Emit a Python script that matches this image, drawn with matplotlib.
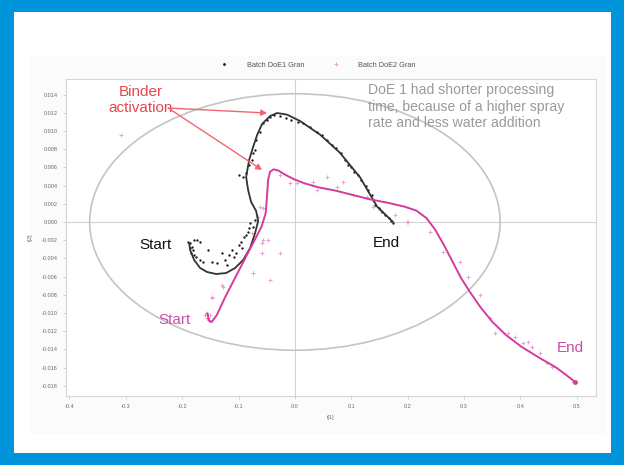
import matplotlib
matplotlib.use("Agg")
import matplotlib.pyplot as plt
from matplotlib.patches import Ellipse, Rectangle

plt.rcParams['font.family'] = ['Liberation Sans', 'DejaVu Sans']

# ---- score trajectories (t[1], t[2]) ----
doe1_line_t1 = [-0.1876, -0.1858, -0.1787, -0.1681, -0.1557, -0.1397, -0.1220, -0.1061,
                -0.0918, -0.0794, -0.0706, -0.0652, -0.0688, -0.0777, -0.0830, -0.0865,
                -0.0812, -0.0741, -0.0670, -0.0582, -0.0440, -0.0316, -0.0138, 0.0092,
                0.0447, 0.0800, 0.1156, 0.1457, 0.1740]
doe1_line_t2 = [-0.00231, -0.00308, -0.00418, -0.00506, -0.00550, -0.00572, -0.00561, -0.00506,
                -0.00418, -0.00286, -0.00121, 0.00011, 0.00121, 0.00220, 0.00352, 0.00495,
                0.00682, 0.00825, 0.00957, 0.01078, 0.01165, 0.01198, 0.01180, 0.01110,
                0.00960, 0.00760, 0.00490, 0.00170, 0.00000]

doe2_line_t1 = [-0.1550, -0.1526, -0.1477, -0.1386, -0.1233, -0.1050, -0.0867, -0.0714,
                -0.0592, -0.0519, -0.0495, -0.0476, -0.0440, -0.0379, -0.0287, -0.0165,
                -0.0012, 0.0171, 0.0415, 0.0720, 0.1026, 0.1331, 0.1636, 0.1941,
                0.2155, 0.2338, 0.2491, 0.2643, 0.2796, 0.2949, 0.3101, 0.3284,
                0.3498, 0.3742, 0.4017, 0.4322, 0.4628, 0.4811, 0.4963]
doe2_line_t2 = [-0.01004, -0.01085, -0.01100, -0.01023, -0.00821, -0.00601, -0.00381, -0.00198,
                -0.00051, 0.00095, 0.00279, 0.00462, 0.00553, 0.00579, 0.00564, 0.00517,
                0.00469, 0.00425, 0.00381, 0.00345, 0.00297, 0.00249, 0.00213, 0.00169,
                0.00125, 0.00040, -0.00088, -0.00253, -0.00436, -0.00619, -0.00766, -0.00931,
                -0.01096, -0.01242, -0.01371, -0.01488, -0.01598, -0.01682, -0.01756]

# ---- observed batch scores ----
doe1_t1 = [-0.1893, -0.1856, -0.1832, -0.1868, -0.1813, -0.1844, -0.1783, -0.1752, -0.1795,
           -0.1734, -0.1691, -0.1691, -0.1630, -0.1538, -0.1477, -0.1386, -0.1294, -0.1245,
           -0.1203, -0.1172, -0.1111, -0.1081, -0.1038, -0.0989, -0.0958, -0.0940, -0.0897,
           -0.0867, -0.0836, -0.0806, -0.0788, -0.0745, -0.0714,
           -0.0989, -0.0928, -0.0867, -0.0818, -0.0769, -0.0745, -0.0714, -0.0684, -0.0623,
           -0.0562, -0.0501, -0.0440, -0.0379,
           -0.0256, -0.0165, -0.0073, 0.0049, 0.0140, 0.0263, 0.0385, 0.0476, 0.0568,
           0.0659, 0.0720, 0.0812, 0.0891, 0.0934, 0.0995, 0.1056, 0.1117, 0.1178,
           0.1258, 0.1300, 0.1361, 0.1392, 0.1422, 0.1484, 0.1545, 0.1606, 0.1667,
           0.1709, 0.1746]
doe1_t2 = [-0.00216, -0.00235, -0.00271, -0.00290, -0.00308, -0.00337, -0.00363, -0.00388, -0.00198,
           -0.00198, -0.00216, -0.00418, -0.00436, -0.00308, -0.00436, -0.00447, -0.00345, -0.00418,
           -0.00473, -0.00363, -0.00308, -0.00381, -0.00345, -0.00253, -0.00216, -0.00290, -0.00161,
           -0.00143, -0.00106, -0.00070, -0.00015, -0.00051, 0.00022,
           0.00517, 0.00498, 0.00535, 0.00627, 0.00682, 0.00755, 0.00792, 0.00902, 0.00993,
           0.01085, 0.01121, 0.01158, 0.01176,
           0.01165, 0.01140, 0.01121, 0.01103, 0.01085, 0.01048, 0.00993, 0.00957, 0.00902,
           0.00847, 0.00811, 0.00755, 0.00682, 0.00627, 0.00601, 0.00553, 0.00517, 0.00462,
           0.00396, 0.00352, 0.00297, 0.00242, 0.00187, 0.00150, 0.00114, 0.00077, 0.00040,
           0.00015, -0.00007]

doe2_t1 = [-0.3077, -0.1569, -0.1538, -0.1508, -0.1562, -0.1592, -0.1516, -0.1473, -0.1477,
           -0.1294, -0.1268, -0.0745, -0.0736, -0.0440, -0.0256, -0.0558, -0.0587, -0.0592,
           -0.0470, -0.0764, -0.0647, -0.0617, -0.0562,
           -0.0262, -0.0085, 0.0034, 0.0328, 0.0388, 0.0566, 0.0743, 0.0860, 0.1037,
           0.1275, 0.1392, 0.1510, 0.1777, 0.1984, 0.2008, 0.2397,
           0.2633, 0.2929, 0.3077, 0.3284, 0.3461, 0.3550, 0.3786, 0.3904, 0.4051,
           0.4140, 0.4200, 0.4348, 0.4466, 0.4555, 0.4938]
doe2_t2 = [0.00957, -0.01004, -0.01059, -0.01023, -0.01059, -0.01023, -0.01078, -0.00839, -0.00821,
           -0.00693, -0.00711, -0.00564, -0.00564, -0.00638, -0.00345, -0.00198, -0.00344, -0.00235,
           -0.00198, -0.00124, 0.00058, 0.00168, 0.00150,
           0.00517, 0.00425, 0.00425, 0.00443, 0.00352, 0.00498, 0.00388, 0.00443, 0.00297,
           0.00278, 0.00168, 0.00132, 0.00077, 0.00000, 0.00000, -0.00107,
           -0.00327, -0.00436, -0.00601, -0.00803, -0.01059, -0.01224, -0.01224, -0.01261, -0.01334,
           -0.01316, -0.01371, -0.01444, -0.01554, -0.01591, -0.01756]

# Hotelling T2 ellipse semi-axes
ellipse_t1 = 0.364
ellipse_t2 = 0.0141

x_ticks = [-0.4, -0.3, -0.2, -0.1, 0.0, 0.1, 0.2, 0.3, 0.4, 0.5]
x_tick_labels = ['-0.4', '-0.3', '-0.2', '-0.1', '0.0', '0.1', '0.2', '0.3', '0.4', '0.5']
y_ticks = [0.014, 0.012, 0.010, 0.008, 0.006, 0.004, 0.002, 0.000, -0.002, -0.004,
           -0.006, -0.008, -0.010, -0.012, -0.014, -0.016, -0.018]
y_tick_labels = ['%.3f' % v for v in y_ticks]

BLUE = '#0095DA'
BLACK_LINE = '#333333'
PINK_LINE = '#D43C9C'
PINK_TEXT = '#C94DA6'
PINK_MARK = '#E6A3D2'
RED_TEXT = '#E8474A'
RED_ARROW = '#EF6672'
GREY_TEXT = '#9A9A9A'

W, H = 624, 465
fig = plt.figure(figsize=(W / 100, H / 100), dpi=100, facecolor=BLUE)

# white panel inside the blue frame, with the faint plot backdrop
fig.add_artist(Rectangle((14 / W, 1 - 453 / H), 597 / W, 441 / H,
                         transform=fig.transFigure, facecolor='white',
                         edgecolor='none', zorder=-20))
fig.add_artist(Rectangle((30 / W, 1 - 434 / H), 575 / W, 378 / H,
                         transform=fig.transFigure, facecolor='#fbfbfb',
                         edgecolor='none', zorder=-19))

ax = fig.add_axes([66 / W, 1 - 396 / H, 530 / W, 317 / H])
ax.set_facecolor('white')
ax.set_xlim(-0.406, 0.534)
ax.set_ylim(-0.01913, 0.01572)

for s in ax.spines.values():
    s.set_color('#d6d6d6')
    s.set_linewidth(0.8)

ax.set_xticks(x_ticks)
ax.set_xticklabels(x_tick_labels)
ax.set_yticks(y_ticks)
ax.set_yticklabels(y_tick_labels)
ax.tick_params(axis='both', labelsize=4, colors='#cccccc', labelcolor='#6a6a6a',
               length=2, width=0.6, pad=4)
ax.set_xlabel('t[1]', fontsize=4, color='#6a6a6a', labelpad=4)
ax.set_ylabel('t[2]', fontsize=4, color='#6a6a6a', labelpad=6)

ax.axhline(0, color='#d2d2d2', lw=0.8, zorder=1)
ax.axvline(0, color='#d2d2d2', lw=0.8, zorder=1)

ax.add_patch(Ellipse((0, 0), 2 * ellipse_t1, 2 * ellipse_t2, fill=False,
                     edgecolor='#c4c4c4', lw=1.2, zorder=1))

ax.plot(doe2_t1, doe2_t2, linestyle='none', marker='+', ms=2.6, mew=0.7,
        color=PINK_MARK, zorder=2, label='Batch DoE2 Gran')
ax.plot(doe1_t1, doe1_t2, linestyle='none', marker='o', ms=1.7, mew=0,
        color='#1a1a1a', zorder=3, label='Batch DoE1 Gran')

ax.plot(doe1_line_t1, doe1_line_t2, color=BLACK_LINE, lw=1.3, zorder=4,
        solid_capstyle='round', solid_joinstyle='round')
ax.plot(doe2_line_t1, doe2_line_t2, color=PINK_LINE, lw=1.4, zorder=4,
        solid_capstyle='round', solid_joinstyle='round')
ax.plot([doe2_line_t1[-1]], [doe2_line_t2[-1]], marker='o', ms=3.5, color=PINK_LINE,
        mew=0, zorder=5)

# legend along the top
h, l = ax.get_legend_handles_labels()
fig.legend([h[1], h[0]], [l[1], l[0]], loc='center', ncol=2,
           bbox_to_anchor=(318 / W, 1 - 65 / H), frameon=False, fontsize=5.3,
           handlelength=1.0, handletextpad=2.6, columnspacing=3.8,
           labelcolor='#555555', markerscale=1.2)

# annotations
ax.text(-0.274, 0.0134, 'Binder\nactivation', color=RED_TEXT, fontsize=11,
        ha='center', va='center', linespacing=1.15, zorder=6)
arrow_kw = dict(arrowstyle='-|>,head_length=0.35,head_width=0.18', color=RED_ARROW,
                lw=1.0, shrinkA=0, shrinkB=0)
ax.annotate('', xy=(-0.0493, 0.01198), xytext=(-0.2248, 0.01253), arrowprops=arrow_kw, zorder=6)
ax.annotate('', xy=(-0.0582, 0.00572), xytext=(-0.2248, 0.01253), arrowprops=arrow_kw, zorder=6)

ax.text(0.1298, 0.0153, 'DoE 1 had shorter processing\ntime, because of a higher spray\n'
        'rate and less water addition', color=GREY_TEXT, fontsize=10.1,
        ha='left', va='top', linespacing=1.25, zorder=6)

ax.text(-0.2760, -0.0025, 'Start', color='#111111', fontsize=11, ha='left', va='center', zorder=6)
ax.text(0.1387, -0.0023, 'End', color='#111111', fontsize=11, ha='left', va='center', zorder=6)
ax.text(-0.2426, -0.0108, 'Start', color=PINK_TEXT, fontsize=11, ha='left', va='center', zorder=6)
ax.text(0.4650, -0.0139, 'End', color=PINK_TEXT, fontsize=11, ha='left', va='center', zorder=6)

fig.savefig('out.png', dpi=100, facecolor=BLUE)
